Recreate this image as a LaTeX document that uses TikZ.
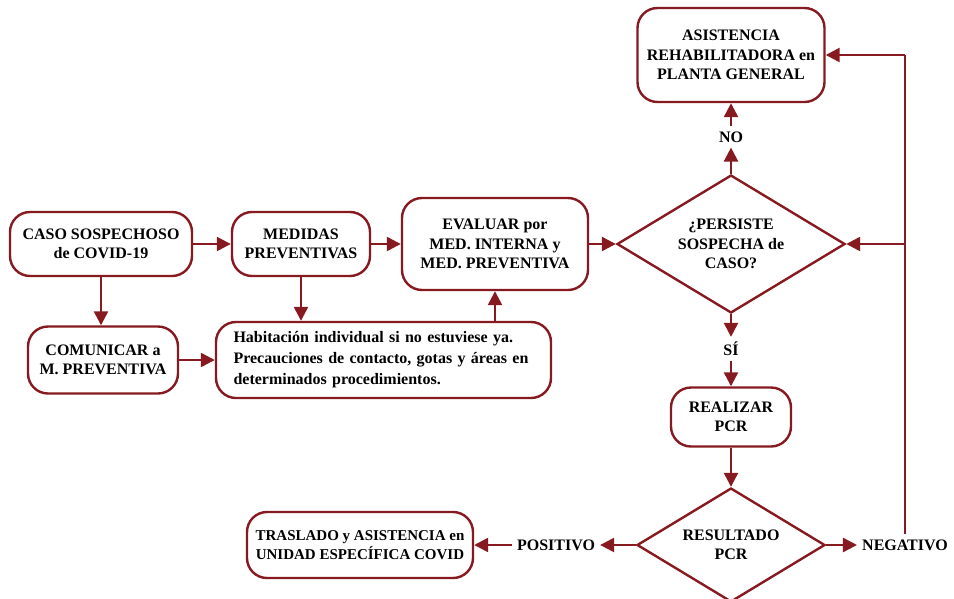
\documentclass[tikz,border=0pt]{standalone}
\usepackage{fontspec}
\setmainfont{Liberation Serif}
\usetikzlibrary{arrows.meta,shapes.geometric}
\definecolor{covidred}{RGB}{135,26,32}

\begin{document}
\begin{tikzpicture}[x=1pt, y=-1pt,
	every node/.style={font=\fontsize{16}{19.5}\selectfont\bfseries},
	caja/.style={draw=covidred, line width=2.4pt, rounded corners=20pt, fill=white, align=center, inner sep=0pt},
	rombo/.style={draw=covidred, line width=2.4pt, diamond, aspect=1.65, fill=white, align=center, inner sep=0pt},
	etiqueta/.style={inner sep=5pt},
	flecha/.style={draw=covidred, line width=2.4pt, -{Triangle[length=14pt, width=14pt]}},
	linea/.style={draw=covidred, line width=2.4pt},
	]
	\useasboundingbox (0,0) rectangle (954,598);

	\node[caja, minimum width=182, minimum height=64] (caso) at (101,244) {CASO SOSPECHOSO\\de COVID-19};
	\node[caja, minimum width=138, minimum height=64] (medidas) at (301,244) {MEDIDAS\\PREVENTIVAS};
	\node[caja, minimum width=186, minimum height=92] (evaluar) at (495,244) {EVALUAR por\\MED. INTERNA y\\MED. PREVENTIVA};
	\node[rombo, minimum width=228, minimum height=138] (persiste) at (731,244) {¿PERSISTE\\SOSPECHA de\\CASO?};
	\node[caja, minimum width=187, minimum height=94] (asistencia) at (731,55) {ASISTENCIA\\REHABILITADORA en\\PLANTA GENERAL};
	\node[etiqueta] (no) at (731,137) {NO};
	\node[etiqueta] (si) at (731,349) {SÍ};
	\node[caja, minimum width=120, minimum height=59] (pcr) at (731,417) {REALIZAR\\PCR};
	\node[rombo, minimum width=188, minimum height=114] (resultado) at (731,545) {RESULTADO\\PCR};
	\node[etiqueta] (positivo) at (556,545) {POSITIVO};
	\node[etiqueta] (negativo) at (905,545) {NEGATIVO};
	\node[caja, minimum width=226, minimum height=66, font=\fontsize{15}{19.5}\selectfont\bfseries] (traslado) at (360,545) {TRASLADO y ASISTENCIA en\\UNIDAD ESPECÍFICA COVID};
	\node[caja, minimum width=150, minimum height=67] (comunicar) at (103,360) {COMUNICAR a\\M. PREVENTIVA};
	\node[caja, minimum width=335, minimum height=76, text width=300pt, align=left, inner xsep=17.5pt, font=\fontsize{16}{21}\selectfont\bfseries] (habitacion) at (383.5,360) {Habitación individual si no estuviese ya.\\Precauciones de contacto, gotas y áreas en\\determinados procedimientos.};

	\coordinate (esquina) at (905,55);
	\coordinate (cruce) at (905,244);

	\draw[flecha] (caso) -- (medidas);
	\draw[flecha] (medidas) -- (evaluar);
	\draw[flecha] (evaluar) -- (persiste);
	\draw[flecha] (persiste) -- (no);
	\draw[flecha] (no) -- (asistencia);
	\draw[flecha] (persiste) -- (si);
	\draw[flecha] (si) -- (pcr);
	\draw[flecha] (pcr) -- (resultado);
	\draw[flecha] (resultado) -- (positivo);
	\draw[flecha] (positivo) -- (traslado);
	\draw[flecha] (resultado) -- (negativo);
	\draw[linea] (negativo) -- (esquina);
	\draw[flecha] (esquina) -- (asistencia);
	\draw[flecha] (cruce) -- (persiste);
	\draw[flecha] (caso.south) -- (caso.south |- comunicar.north);
	\draw[flecha] (comunicar) -- (habitacion);
	\draw[flecha] (medidas.south) -- (medidas.south |- habitacion.north);
	\draw[flecha] (habitacion.north -| evaluar.south) -- (evaluar.south);
\end{tikzpicture}
\end{document}
